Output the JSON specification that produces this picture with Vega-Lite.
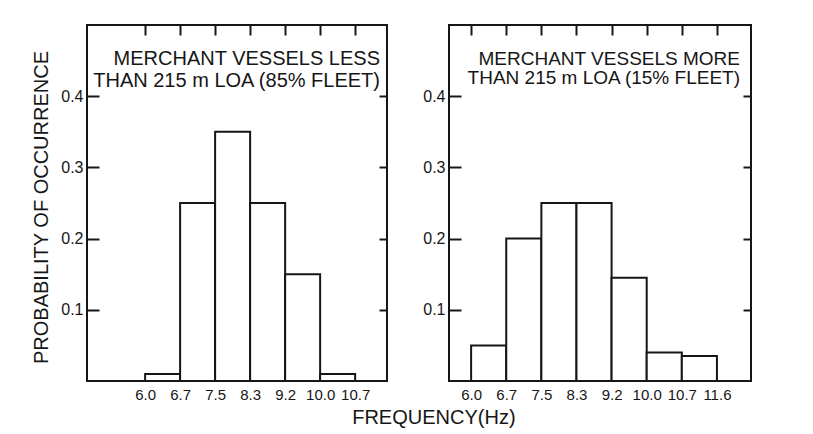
{
  "$schema": "https://vega.github.io/schema/vega-lite/v6.json",
  "background": "white",
  "padding": {"left": 30, "top": 23, "right": 0, "bottom": 0},
  "config": {
    "font": "Liberation Sans",
    "view": {"stroke": "#161616", "strokeWidth": 2},
    "axis": {"labelColor": "#161616", "titleColor": "#161616", "tickColor": "#161616", "tickWidth": 2, "grid": false, "labelFont": "Liberation Sans", "titleFont": "Liberation Sans"},
    "title": {"color": "#161616", "font": "Liberation Sans", "fontWeight": "normal"}
  },
  "datasets": {
    "less": [
      {"x0": 0, "x1": 1, "lo": 6.0, "hi": 6.7, "p": 0.01},
      {"x0": 1, "x1": 2, "lo": 6.7, "hi": 7.5, "p": 0.25},
      {"x0": 2, "x1": 3, "lo": 7.5, "hi": 8.3, "p": 0.35},
      {"x0": 3, "x1": 4, "lo": 8.3, "hi": 9.2, "p": 0.25},
      {"x0": 4, "x1": 5, "lo": 9.2, "hi": 10.0, "p": 0.15},
      {"x0": 5, "x1": 6, "lo": 10.0, "hi": 10.7, "p": 0.01}
    ],
    "more": [
      {"x0": 0, "x1": 1, "lo": 6.0, "hi": 6.7, "p": 0.05},
      {"x0": 1, "x1": 2, "lo": 6.7, "hi": 7.5, "p": 0.2},
      {"x0": 2, "x1": 3, "lo": 7.5, "hi": 8.3, "p": 0.25},
      {"x0": 3, "x1": 4, "lo": 8.3, "hi": 9.2, "p": 0.25},
      {"x0": 4, "x1": 5, "lo": 9.2, "hi": 10.0, "p": 0.145},
      {"x0": 5, "x1": 6, "lo": 10.0, "hi": 10.7, "p": 0.04},
      {"x0": 6, "x1": 7, "lo": 10.7, "hi": 11.6, "p": 0.035}
    ]
  },
  "title": {"text": "FREQUENCY(Hz)", "orient": "bottom", "anchor": "middle", "fontSize": 20, "dx": 42, "offset": 5},
  "spacing": 32,
  "hconcat": [
    {
      "width": 300,
      "height": 356,
      "title": {"text": ["MERCHANT  VESSELS LESS", "THAN 215 m LOA (85% FLEET)"], "orient": "top", "anchor": "end", "align": "right", "baseline": "bottom", "frame": "group", "offset": -87, "dx": -7, "fontSize": 20, "lineHeight": 22},
      "data": {"name": "less"},
      "layer": [
        {
          "mark": {"type": "rect", "fill": "white", "stroke": "#161616", "strokeWidth": 2},
          "encoding": {
            "x": {"field": "x0", "type": "quantitative", "scale": {"domain": [-1.66, 6.91], "nice": false, "zero": false},
              "axis": {"orient": "bottom", "values": [0, 1, 2, 3, 4, 5, 6], "labelExpr": "['6.0','6.7','7.5','8.3','9.2','10.0','10.7'][datum.value]", "ticks": false, "domain": false, "title": null, "labelPadding": 6, "labelFontSize": 15, "labelOverlap": false, "labelFlush": false}},
            "x2": {"field": "x1"},
            "y": {"field": "p", "type": "quantitative", "scale": {"domain": [0, 0.5], "nice": false},
              "axis": {"orient": "left", "values": [0.1, 0.2, 0.3, 0.4], "format": ".1f", "offset": -12, "tickSize": 12, "domain": false, "labelPadding": 4, "labelFontSize": 16, "title": "PROBABILITY OF OCCURRENCE", "titleFontSize": 20, "titleFontWeight": "normal", "titlePadding": 9, "titleY": 182}},
            "y2": {"datum": 0}
          }
        },
        {
          "mark": {"type": "rect", "opacity": 0},
          "encoding": {
            "x": {"field": "x0", "type": "quantitative", "axis": {"orient": "top", "values": [0, 1, 2, 3, 4, 5, 6], "offset": -10, "tickSize": 10, "labels": false, "domain": false, "title": null}},
            "x2": {"field": "x1"},
            "y": {"field": "p", "type": "quantitative", "axis": {"orient": "right", "values": [0.1, 0.2, 0.3, 0.4], "offset": -8, "tickSize": 8, "labels": false, "domain": false, "title": null}},
            "y2": {"datum": 0}
          }
        }
      ],
      "resolve": {"axis": {"x": "independent", "y": "independent"}}
    },
    {
      "width": 302,
      "height": 356,
      "title": {"text": ["MERCHANT VESSELS MORE", "THAN 215 m LOA (15% FLEET)"], "orient": "top", "anchor": "end", "align": "right", "baseline": "bottom", "frame": "group", "offset": -83, "dx": -11, "fontSize": 19, "lineHeight": 19},
      "data": {"name": "more"},
      "layer": [
        {
          "mark": {"type": "rect", "fill": "white", "stroke": "#161616", "strokeWidth": 2},
          "encoding": {
            "x": {"field": "x0", "type": "quantitative", "scale": {"domain": [-0.63, 7.97], "nice": false, "zero": false},
              "axis": {"orient": "bottom", "values": [0, 1, 2, 3, 4, 5, 6, 7], "labelExpr": "['6.0','6.7','7.5','8.3','9.2','10.0','10.7','11.6'][datum.value]", "ticks": false, "domain": false, "title": null, "labelPadding": 6, "labelFontSize": 15, "labelOverlap": false, "labelFlush": false}},
            "x2": {"field": "x1"},
            "y": {"field": "p", "type": "quantitative", "scale": {"domain": [0, 0.5], "nice": false},
              "axis": {"orient": "left", "values": [0.1, 0.2, 0.3, 0.4], "format": ".1f", "offset": -12, "tickSize": 12, "domain": false, "labelPadding": 4, "labelFontSize": 16, "title": null}},
            "y2": {"datum": 0}
          }
        },
        {
          "mark": {"type": "rect", "opacity": 0},
          "encoding": {
            "x": {"field": "x0", "type": "quantitative", "axis": {"orient": "top", "values": [0, 1, 2, 3, 4, 5, 6, 7], "offset": -10, "tickSize": 10, "labels": false, "domain": false, "title": null}},
            "x2": {"field": "x1"},
            "y": {"field": "p", "type": "quantitative", "axis": {"orient": "right", "values": [0.1, 0.2, 0.3, 0.4], "offset": -8, "tickSize": 8, "labels": false, "domain": false, "title": null}},
            "y2": {"datum": 0}
          }
        }
      ],
      "resolve": {"axis": {"x": "independent", "y": "independent"}}
    }
  ]
}
